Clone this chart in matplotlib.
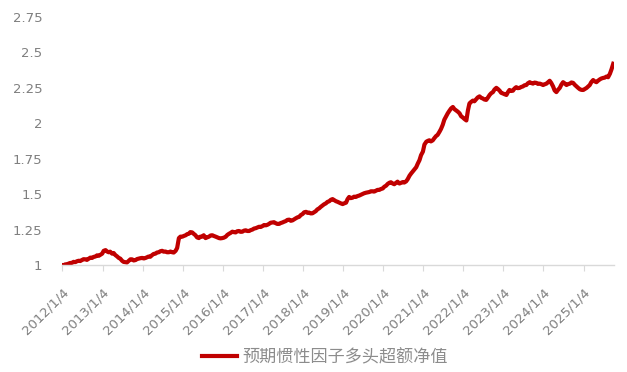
import matplotlib
matplotlib.use("Agg")
import matplotlib.pyplot as plt
import pandas as pd

plt.rcParams['font.family'] = ['Noto Sans CJK SC', 'DejaVu Sans']

series_name = "预期惯性因子多头超额净值"
start_date = "2012-01-01"
# semi-monthly readings (1st and 15th of each month)
nav_2012 = [1.00, 0.998, 1.005, 1.003, 1.01, 1.014, 1.015, 1.022, 1.02, 1.026, 1.03, 1.028,
            1.035, 1.041, 1.04, 1.036, 1.045, 1.052, 1.05, 1.057, 1.06, 1.068, 1.065, 1.072]
nav_2013 = [1.08, 1.10, 1.105, 1.095, 1.09, 1.094, 1.08, 1.085, 1.07, 1.062, 1.05, 1.045,
            1.03, 1.022, 1.02, 1.018, 1.03, 1.04, 1.04, 1.032, 1.035, 1.042, 1.045, 1.048]
nav_2014 = [1.05, 1.046, 1.05, 1.055, 1.06, 1.058, 1.07, 1.078, 1.08, 1.088, 1.09, 1.097,
            1.10, 1.094, 1.095, 1.09, 1.09, 1.095, 1.09, 1.088, 1.10, 1.12, 1.19, 1.20]
nav_2015 = [1.20, 1.205, 1.21, 1.218, 1.22, 1.232, 1.23, 1.22, 1.21, 1.195, 1.19, 1.20,
            1.20, 1.21, 1.19, 1.195, 1.20, 1.208, 1.21, 1.205, 1.20, 1.195, 1.19, 1.188]
nav_2016 = [1.19, 1.193, 1.20, 1.212, 1.22, 1.226, 1.235, 1.232, 1.23, 1.238, 1.24, 1.234,
            1.235, 1.242, 1.245, 1.24, 1.24, 1.246, 1.25, 1.257, 1.26, 1.265, 1.27, 1.268]
nav_2017 = [1.275, 1.282, 1.28, 1.284, 1.29, 1.298, 1.30, 1.302, 1.295, 1.29, 1.29, 1.296,
            1.30, 1.305, 1.31, 1.318, 1.32, 1.312, 1.315, 1.322, 1.33, 1.336, 1.34, 1.352]
nav_2018 = [1.36, 1.372, 1.375, 1.368, 1.37, 1.364, 1.365, 1.372, 1.38, 1.392, 1.40, 1.41,
            1.42, 1.428, 1.435, 1.445, 1.45, 1.46, 1.465, 1.458, 1.45, 1.446, 1.44, 1.435]
nav_2019 = [1.43, 1.435, 1.44, 1.465, 1.48, 1.472, 1.475, 1.482, 1.48, 1.486, 1.49, 1.495,
            1.50, 1.506, 1.51, 1.512, 1.515, 1.52, 1.52, 1.518, 1.525, 1.53, 1.53, 1.536]
nav_2020 = [1.54, 1.552, 1.56, 1.572, 1.58, 1.584, 1.575, 1.57, 1.58, 1.588, 1.575, 1.58,
            1.585, 1.582, 1.59, 1.605, 1.63, 1.645, 1.66, 1.672, 1.69, 1.715, 1.74, 1.775]
nav_2021 = [1.80, 1.85, 1.87, 1.876, 1.88, 1.872, 1.88, 1.895, 1.91, 1.918, 1.94, 1.96,
            1.99, 2.025, 2.05, 2.07, 2.09, 2.105, 2.115, 2.10, 2.09, 2.082, 2.07, 2.05]
nav_2022 = [2.04, 2.03, 2.02, 2.09, 2.14, 2.15, 2.16, 2.155, 2.17, 2.182, 2.19, 2.18,
            2.175, 2.168, 2.165, 2.18, 2.20, 2.212, 2.22, 2.238, 2.25, 2.242, 2.23, 2.215]
nav_2023 = [2.21, 2.205, 2.20, 2.22, 2.235, 2.228, 2.23, 2.245, 2.255, 2.248, 2.25, 2.256,
            2.26, 2.268, 2.27, 2.282, 2.29, 2.284, 2.28, 2.287, 2.285, 2.278, 2.28, 2.276]
nav_2024 = [2.27, 2.275, 2.28, 2.29, 2.30, 2.285, 2.26, 2.232, 2.22, 2.235, 2.25, 2.272,
            2.29, 2.282, 2.27, 2.276, 2.28, 2.288, 2.285, 2.272, 2.26, 2.25, 2.24, 2.236]
nav_2025 = [2.235, 2.242, 2.25, 2.26, 2.27, 2.29, 2.305, 2.296, 2.29, 2.30, 2.31, 2.316,
            2.32, 2.322, 2.33, 2.325, 2.35, 2.38, 2.42]

values = (nav_2012 + nav_2013 + nav_2014 + nav_2015 + nav_2016 + nav_2017 + nav_2018
          + nav_2019 + nav_2020 + nav_2021 + nav_2022 + nav_2023 + nav_2024 + nav_2025)
dates = pd.date_range(start_date, periods=len(values), freq="SMS")

tick_years = list(range(2012, 2026))
tick_labels = [f"{y}/1/4" for y in tick_years]
y_ticks = [1, 1.25, 1.5, 1.75, 2, 2.25, 2.5, 2.75]
y_labels = ["1", "1.25", "1.5", "1.75", "2", "2.25", "2.5", "2.75"]

fig = plt.figure(figsize=(6.27, 3.72), dpi=100)
ax = fig.add_axes([62/627, 1 - 265/372, (614 - 62)/627, (265 - 17)/372])

line, = ax.plot(dates, values, color="#C00000", lw=3.0, solid_joinstyle="round",
                label=series_name)

ax.set_ylim(1, 2.75)
ax.set_xlim(pd.Timestamp("2012-01-01"), pd.Timestamp("2025-10-08"))
ax.set_yticks(y_ticks)
ax.set_yticklabels(y_labels)
tick_dates = [pd.Timestamp(f"{y}-01-04") for y in tick_years]
ax.set_xticks(tick_dates)
ax.set_xticklabels(tick_labels, rotation=45, ha="right", rotation_mode="anchor")

for s in ["left", "right", "top"]:
    ax.spines[s].set_visible(False)
ax.spines["bottom"].set_color("#d9d9d9")
ax.spines["bottom"].set_linewidth(1.0)
ax.tick_params(axis="y", length=0, pad=14, labelsize=9.5, labelcolor="#7f7f7f")
ax.tick_params(axis="x", length=4, width=0.8, color="#d9d9d9", pad=11,
               labelsize=9.5, labelcolor="#7f7f7f")
for t in ax.get_xticklabels() + ax.get_yticklabels():
    t.set_fontfamily(['DejaVu Sans'])

fig.legend(handles=[line], loc="center", bbox_to_anchor=(0.518, 0.04), frameon=False,
           fontsize=12.3, labelcolor="#8c8c8c", handlelength=2.1, handletextpad=0.3)

fig.savefig("out.png", dpi=100)
